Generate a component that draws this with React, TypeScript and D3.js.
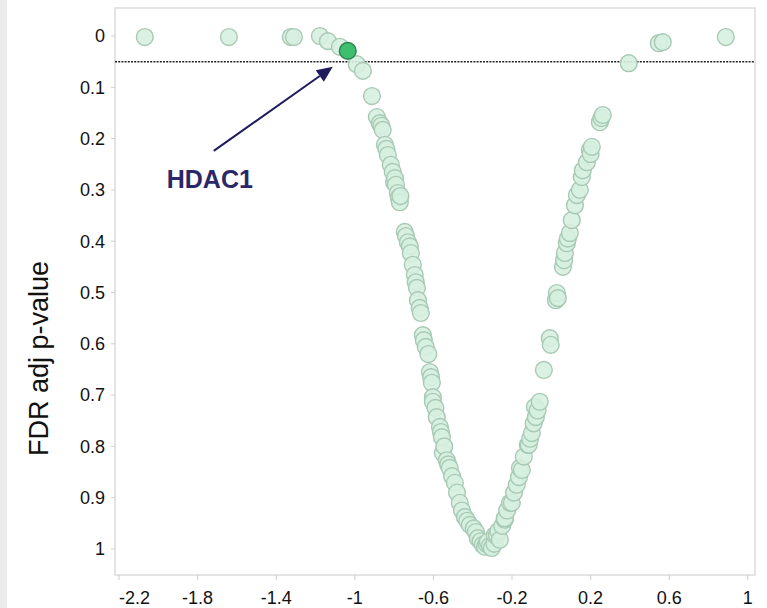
import React, { useEffect, useRef } from 'react';
import * as d3 from 'd3';

// log fold change / FDR adj p-value
const fc = [
  -2.069, -1.641, -1.326, -1.31, -1.178, -1.137, -1.076,
  -0.99, -0.959, -0.913, -0.888, -0.873, -0.865, -0.858, -0.847, -0.84, -0.832, -0.817, -0.807, -0.8, -0.796, -0.791, -0.781, -0.776, -0.771, -0.768,
  -0.746, -0.74, -0.73, -0.72, -0.715, -0.705, -0.695, -0.69, -0.684, -0.679, -0.67, -0.664, -0.654, -0.649, -0.639, -0.626, -0.618, -0.612, -0.608, -0.603,
  -0.603, -0.59, -0.583, -0.567, -0.562, -0.557, -0.552, -0.545, -0.532, -0.525, -0.517, -0.505, -0.491, -0.48, -0.466, -0.455, -0.44, -0.428, -0.415,
  -0.395, -0.384, -0.374, -0.36, -0.349, -0.338, -0.33, -0.323,
  -0.313, -0.303, -0.29, -0.288, -0.277, -0.27, -0.262, -0.25, -0.237, -0.237, -0.225, -0.211, -0.201, -0.19, -0.176, -0.165, -0.16, -0.15, -0.14,
  -0.12, -0.115, -0.108, -0.099, -0.09, -0.084, -0.079, -0.07, -0.059, -0.038, -0.008, -0.003, 0.023, 0.028, 0.033, 0.059, 0.065, 0.069, 0.079, 0.084,
  0.094, 0.104, 0.12, 0.13, 0.145, 0.155, 0.16, 0.181, 0.196, 0.2, 0.206, 0.247, 0.255, 0.262, 0.394, 0.547, 0.567, 0.888,
];
const fdr = [
  0.002, 0.002, 0.002, 0.002, 0.0, 0.01, 0.021,
  0.055, 0.068, 0.117, 0.158, 0.17, 0.175, 0.183, 0.212, 0.22, 0.232, 0.251, 0.265, 0.285, 0.277, 0.29, 0.306, 0.315, 0.324, 0.312,
  0.382, 0.39, 0.402, 0.41, 0.423, 0.446, 0.466, 0.48, 0.491, 0.515, 0.53, 0.54, 0.583, 0.593, 0.606, 0.62, 0.655, 0.665, 0.676, 0.704,
  0.713, 0.725, 0.743, 0.762, 0.772, 0.782, 0.813, 0.8, 0.827, 0.835, 0.842, 0.858, 0.871, 0.89, 0.91, 0.925, 0.938, 0.945, 0.953,
  0.96, 0.967, 0.979, 0.985, 0.992, 0.996, 0.99, 0.986,
  0.994, 0.998, 0.99, 0.973, 0.973, 0.965, 0.982, 0.955, 0.943, 0.94, 0.925, 0.91, 0.91, 0.89, 0.875, 0.86, 0.842, 0.846, 0.82,
  0.797, 0.797, 0.785, 0.774, 0.755, 0.723, 0.743, 0.73, 0.713, 0.651, 0.589, 0.602, 0.515, 0.501, 0.511, 0.45, 0.437, 0.423, 0.404, 0.395,
  0.384, 0.359, 0.33, 0.31, 0.3, 0.275, 0.262, 0.246, 0.222, 0.23, 0.216, 0.168, 0.16, 0.154, 0.053, 0.014, 0.012, 0.002,
];

const hiName = 'HDAC1';
const hiFc = -1.036;
const hiFdr = 0.029;

// annotation: label anchor, arrow start, arrow tip (data units)
const labelPos = [-1.957, 0.296];
const arrowFrom = [-1.718, 0.224];
const arrowTo = [-1.112, 0.06];

const cutoff = 0.05;

const xTicks = [-2.2, -1.8, -1.4, -1, -0.6, -0.2, 0.2, 0.6, 1];
const yTicks = [0, 0.1, 0.2, 0.3, 0.4, 0.5, 0.6, 0.7, 0.8, 0.9, 1];
const yTitle = 'FDR adj p-value';

const App = () => {
  const svgRef = useRef(null);
  const width = 767;
  const height = 608;
  const left = 115, right = 755, top = 8, bottom = 575;

  useEffect(() => {
    const svg = d3.select(svgRef.current);
    svg.selectAll('*').remove();

    const x = d3.scaleLinear().domain([-2.2205, 1.0365]).range([left, right]);
    const y = d3.scaleLinear().domain([-0.0546, 1.0507]).range([top, bottom]);

    svg.append('rect').attr('x', 0).attr('y', 0).attr('width', 7).attr('height', height).attr('fill', '#ececec');

    // frame
    svg.append('rect')
      .attr('x', left).attr('y', top)
      .attr('width', right - left).attr('height', bottom - top)
      .attr('fill', 'none').attr('stroke', '#dcdcdc').attr('stroke-width', 1.5);

    const font = 'Arial, "Liberation Sans", sans-serif';

    // y axis
    const yg = svg.append('g');
    yg.selectAll('line').data(yTicks).join('line')
      .attr('x1', left - 4).attr('x2', left)
      .attr('y1', (d) => y(d)).attr('y2', (d) => y(d))
      .attr('stroke', '#cfcfcf');
    yg.selectAll('text').data(yTicks).join('text')
      .attr('x', left - 10).attr('y', (d) => y(d))
      .attr('dy', '0.35em').attr('text-anchor', 'end')
      .attr('font-family', font).attr('font-size', 18).attr('fill', '#111')
      .text((d) => String(d));

    // x axis (first label kept inside, left aligned on its tick)
    const xg = svg.append('g');
    xg.selectAll('line').data(xTicks).join('line')
      .attr('x1', (d) => x(d)).attr('x2', (d) => x(d))
      .attr('y1', bottom).attr('y2', bottom + 5)
      .attr('stroke', '#cfcfcf');
    xg.selectAll('text').data(xTicks).join('text')
      .attr('x', (d) => x(d)).attr('y', bottom + 29)
      .attr('text-anchor', (d, i) => (i === 0 ? 'start' : 'middle'))
      .attr('font-family', font).attr('font-size', 18).attr('fill', '#111')
      .text((d) => String(d));

    svg.append('text')
      .attr('transform', `translate(48,${(top + bottom) / 2 + 67}) rotate(-90)`)
      .attr('text-anchor', 'middle')
      .attr('font-family', font).attr('font-size', 27).attr('fill', '#111')
      .text(yTitle);

    // threshold
    svg.append('line')
      .attr('x1', left).attr('x2', right)
      .attr('y1', y(cutoff)).attr('y2', y(cutoff))
      .attr('stroke', '#222').attr('stroke-width', 1.5).attr('stroke-dasharray', '2,1.2');

    const pts = fc.map((v, i) => [v, fdr[i]]);
    svg.append('g').selectAll('circle').data(pts).join('circle')
      .attr('cx', (d) => x(d[0])).attr('cy', (d) => y(d[1]))
      .attr('r', 8.4)
      .attr('fill', '#d6f0e0').attr('fill-opacity', 0.9)
      .attr('stroke', '#a7c9b4').attr('stroke-width', 1.4);

    svg.append('circle')
      .attr('cx', x(hiFc)).attr('cy', y(hiFdr)).attr('r', 8.4)
      .attr('fill', '#3dbf6d').attr('stroke', '#2c8050').attr('stroke-width', 1.4);

    // annotation
    const x1 = x(arrowFrom[0]), y1 = y(arrowFrom[1]);
    const x2 = x(arrowTo[0]), y2 = y(arrowTo[1]);
    const ang = Math.atan2(y2 - y1, x2 - x1);
    const hl = 16, hw = 7;
    const bx = x2 - hl * Math.cos(ang), by = y2 - hl * Math.sin(ang);
    svg.append('line')
      .attr('x1', x1).attr('y1', y1).attr('x2', bx).attr('y2', by)
      .attr('stroke', '#1f1b5c').attr('stroke-width', 2);
    svg.append('path')
      .attr('d', d3.line()([
        [x2, y2],
        [bx + hw * Math.sin(ang), by - hw * Math.cos(ang)],
        [bx - hw * Math.sin(ang), by + hw * Math.cos(ang)],
      ]) + 'Z')
      .attr('fill', '#1f1b5c');
    svg.append('text')
      .attr('x', x(labelPos[0])).attr('y', y(labelPos[1]))
      .attr('font-family', font).attr('font-size', 25).attr('font-weight', 'bold')
      .attr('fill', '#2b2868')
      .text(hiName);
  }, []);

  return (
    <svg
      ref={svgRef}
      width={width}
      height={height}
      style={{ position: 'absolute', left: 0, top: 0, background: '#fff' }}
    />
  );
};

export default App;
